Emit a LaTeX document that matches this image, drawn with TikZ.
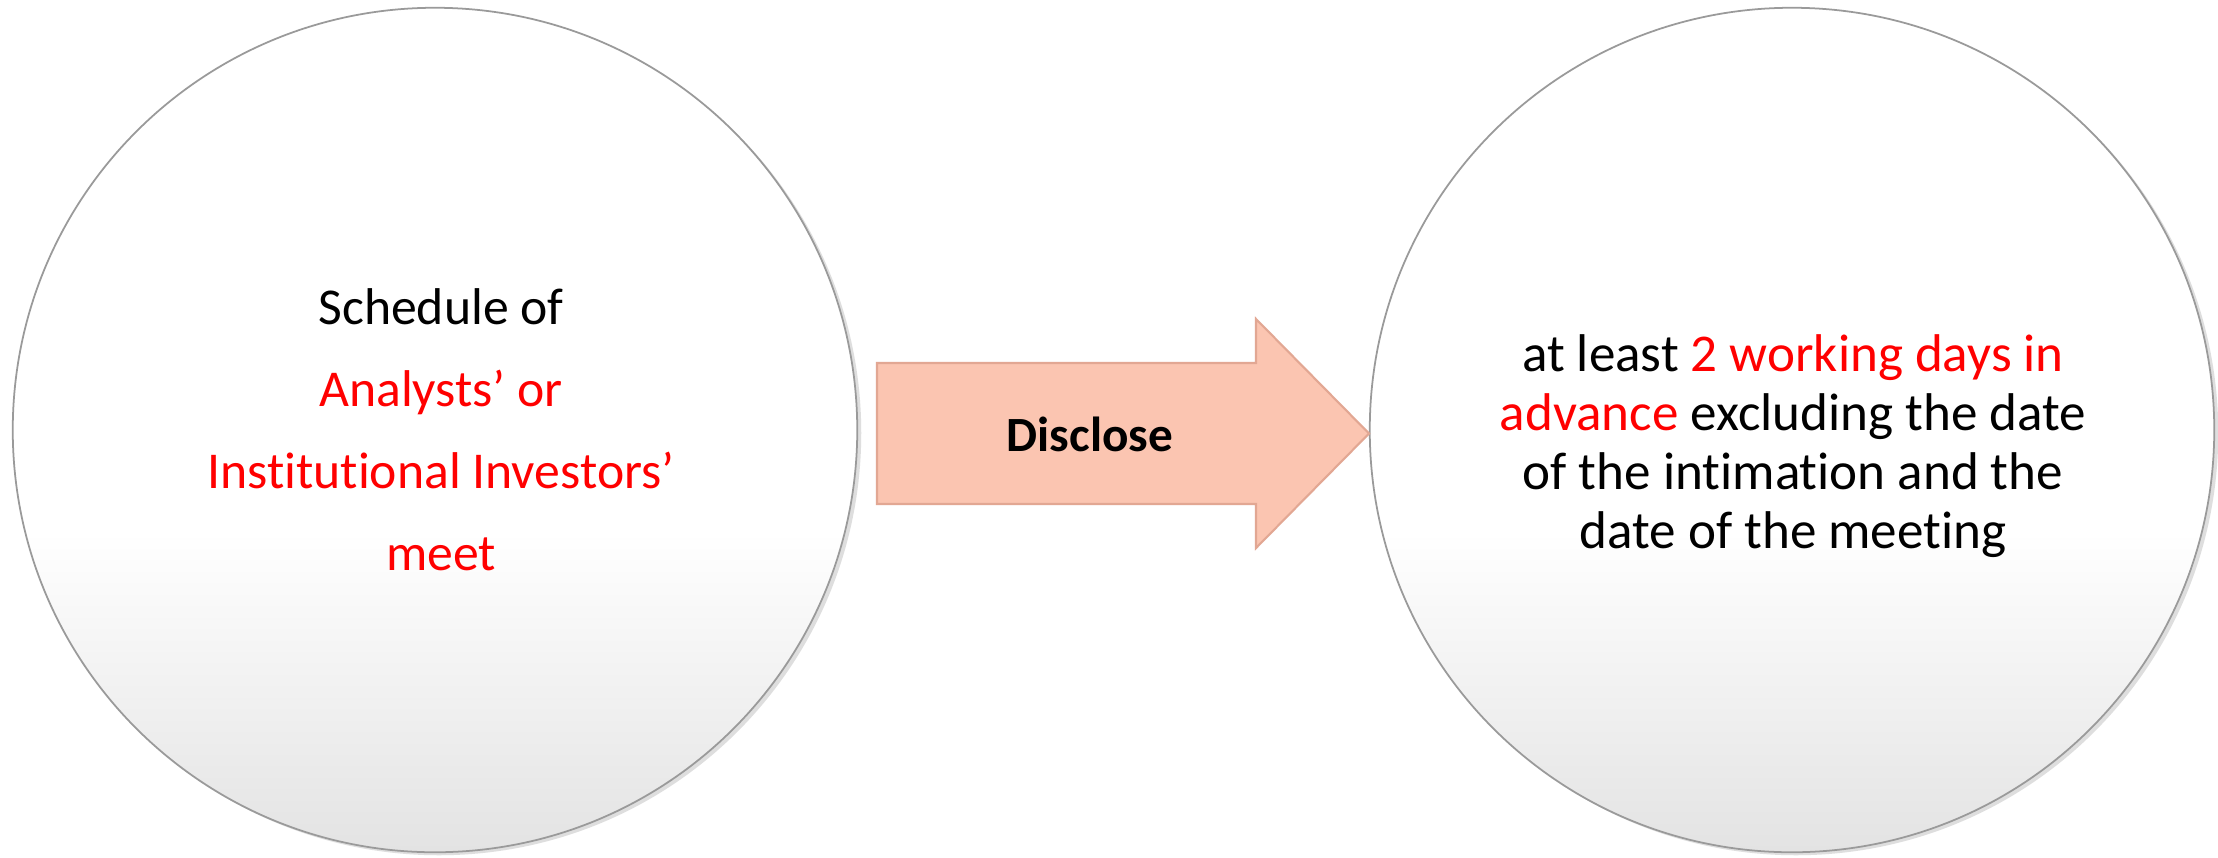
\documentclass[tikz,border=0pt]{standalone}
\usepackage{fontspec}
\setmainfont{Carlito}[Ligatures=NoCommon]
\usetikzlibrary{shadows}
\definecolor{peach}{HTML}{FBC5B1}
\definecolor{peachedge}{HTML}{E2A793}
\definecolor{hot}{HTML}{FF0000}
\definecolor{rim}{HTML}{9A9A9A}
% white disc that greys out only towards its lower edge
\pgfdeclareverticalshading{discfade}{100bp}{color(0bp)=(black!11); color(25bp)=(black!11); color(44bp)=(white); color(100bp)=(white)}
\tikzset{
  disc/.style={circle, minimum size=8.44cm, inner sep=0pt, draw=rim, line width=0.5pt,
    shading=discfade,
    drop shadow={shadow xshift=0.04cm, shadow yshift=-0.03cm, fill=black!25, opacity=0.5}},
  bodytext/.style={align=center, inner sep=0pt},
  arrowbody/.style={fill=peach, draw=peachedge, line width=0.6pt, line join=miter},
}
\newcommand{\hl}[1]{\textcolor{hot}{#1}}
\begin{document}
\begin{tikzpicture}[x=0.01cm, y=-0.01cm]
  \useasboundingbox (0,0) rectangle (2218,857);
  \fill[white] (0,0) rectangle (2218,857);

  % the two discs
  \node[disc] (src) at (435,430) {};
  \node[disc] (dst) at (1792,430) {};

  % the block arrow between them
  \filldraw[arrowbody]
    (877,363) -- (1256,363) -- (1256,319) -- (1369,433.5)
    -- (1256,548) -- (1256,504) -- (877,504) -- cycle;
  \node[font=\fontsize{14pt}{17pt}\selectfont\bfseries, inner sep=0pt] (verb) at (1090,434) {Disclose};

  % texts inside the discs
  \node[bodytext, font=\fontsize{14.7pt}{23.3pt}\selectfont] (srctext) at (441,430)
    {Schedule of\\ \hl{Analysts’ or}\\ \hl{Institutional Investors’}\\ \hl{meet}};
  \node[bodytext, font=\fontsize{15.1pt}{16.8pt}\selectfont] (dsttext) at (1793,446)
    {at least \hl{2 working days in}\\ \hl{advance} excluding the date\\ of the intimation and the\\ date of the meeting};
\end{tikzpicture}
\end{document}
